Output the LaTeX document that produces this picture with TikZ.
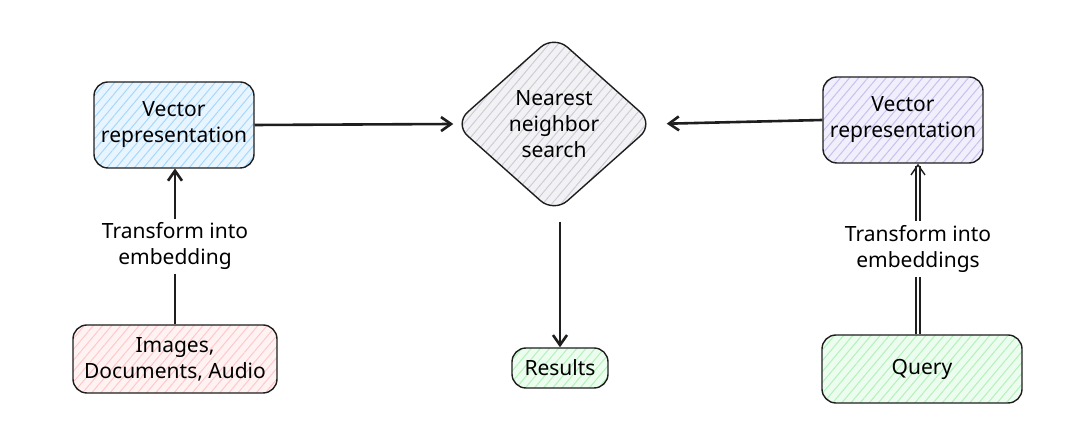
\documentclass[tikz,border=0pt]{standalone}
\usepackage{fontspec}
\setmainfont{Noto Sans}
\usepackage{xcolor}
\usetikzlibrary{positioning,shapes.geometric,arrows.meta,patterns.meta}

\definecolor{inkdark}{HTML}{1E1E1E}
\definecolor{hatchblue}{HTML}{A5D8FF}
\definecolor{hatchviolet}{HTML}{C8C0F0}
\definecolor{hatchgray}{HTML}{CDCDD8}
\definecolor{hatchred}{HTML}{FFC9C9}
\definecolor{hatchgreen}{HTML}{B2F2BB}

\tikzset{
  hatch/.style={preaction={fill=#1!25},
    pattern={Lines[angle=50,distance=3.5pt,line width=0.5pt]}, pattern color=#1},
  box/.style={draw=inkdark, line width=0.7pt, rounded corners=7pt,
    align=center, font=\fontsize{10.5}{13}\selectfont},
  flow/.style={draw=inkdark, line width=1.3pt, -{Straight Barb[length=5pt,width=7pt]}},
  note/.style={fill=white, align=center, inner sep=2pt, font=\fontsize{10.5}{13}\selectfont}
}

\begin{document}
\begin{tikzpicture}[x=0.5pt, y=-0.5pt]
        \useasboundingbox (0,0) rectangle (1082,426);

        \node (vecL) [box, hatch=hatchblue, minimum width=80pt, minimum height=43pt] at (174,125) {Vector\\representation};
        \node (search) [box, diamond, hatch=hatchgray, rounded corners=9pt, minimum width=100pt, minimum height=89pt, inner sep=0pt] at (554,124) {Nearest\\neighbor\\search};
        \node (vecR) [box, hatch=hatchviolet, minimum width=80pt, minimum height=43pt] at (903,120) {Vector\\representation};
        \node (img) [box, hatch=hatchred, minimum width=102pt, minimum height=34pt] at (175,359) {Images,\\Documents, Audio};
        \node (res) [box, hatch=hatchgreen, minimum width=48pt, minimum height=20pt] at (560,368) {Results};
        \node (query) [box, hatch=hatchgreen, minimum width=100pt, minimum height=34pt] at (922,369) {Query};

        \draw[flow] (vecL.east) -- (search.west);
        \draw[flow, shorten >=6pt] (vecR.west) -- (search.east);
        \draw[flow, shorten <=4pt] (search.south -| res.north) -- (res.north);
        \draw[flow] (img.north) -- node[note] {Transform into\\embedding} (img.north |- vecL.south);
        \draw[flow, double=white, double distance=1.2pt, line width=0.7pt] (query.north -| 918,0) -- node[note] {Transform into\\embeddings} (vecR.south -| 918,0);
      \end{tikzpicture}
\end{document}
